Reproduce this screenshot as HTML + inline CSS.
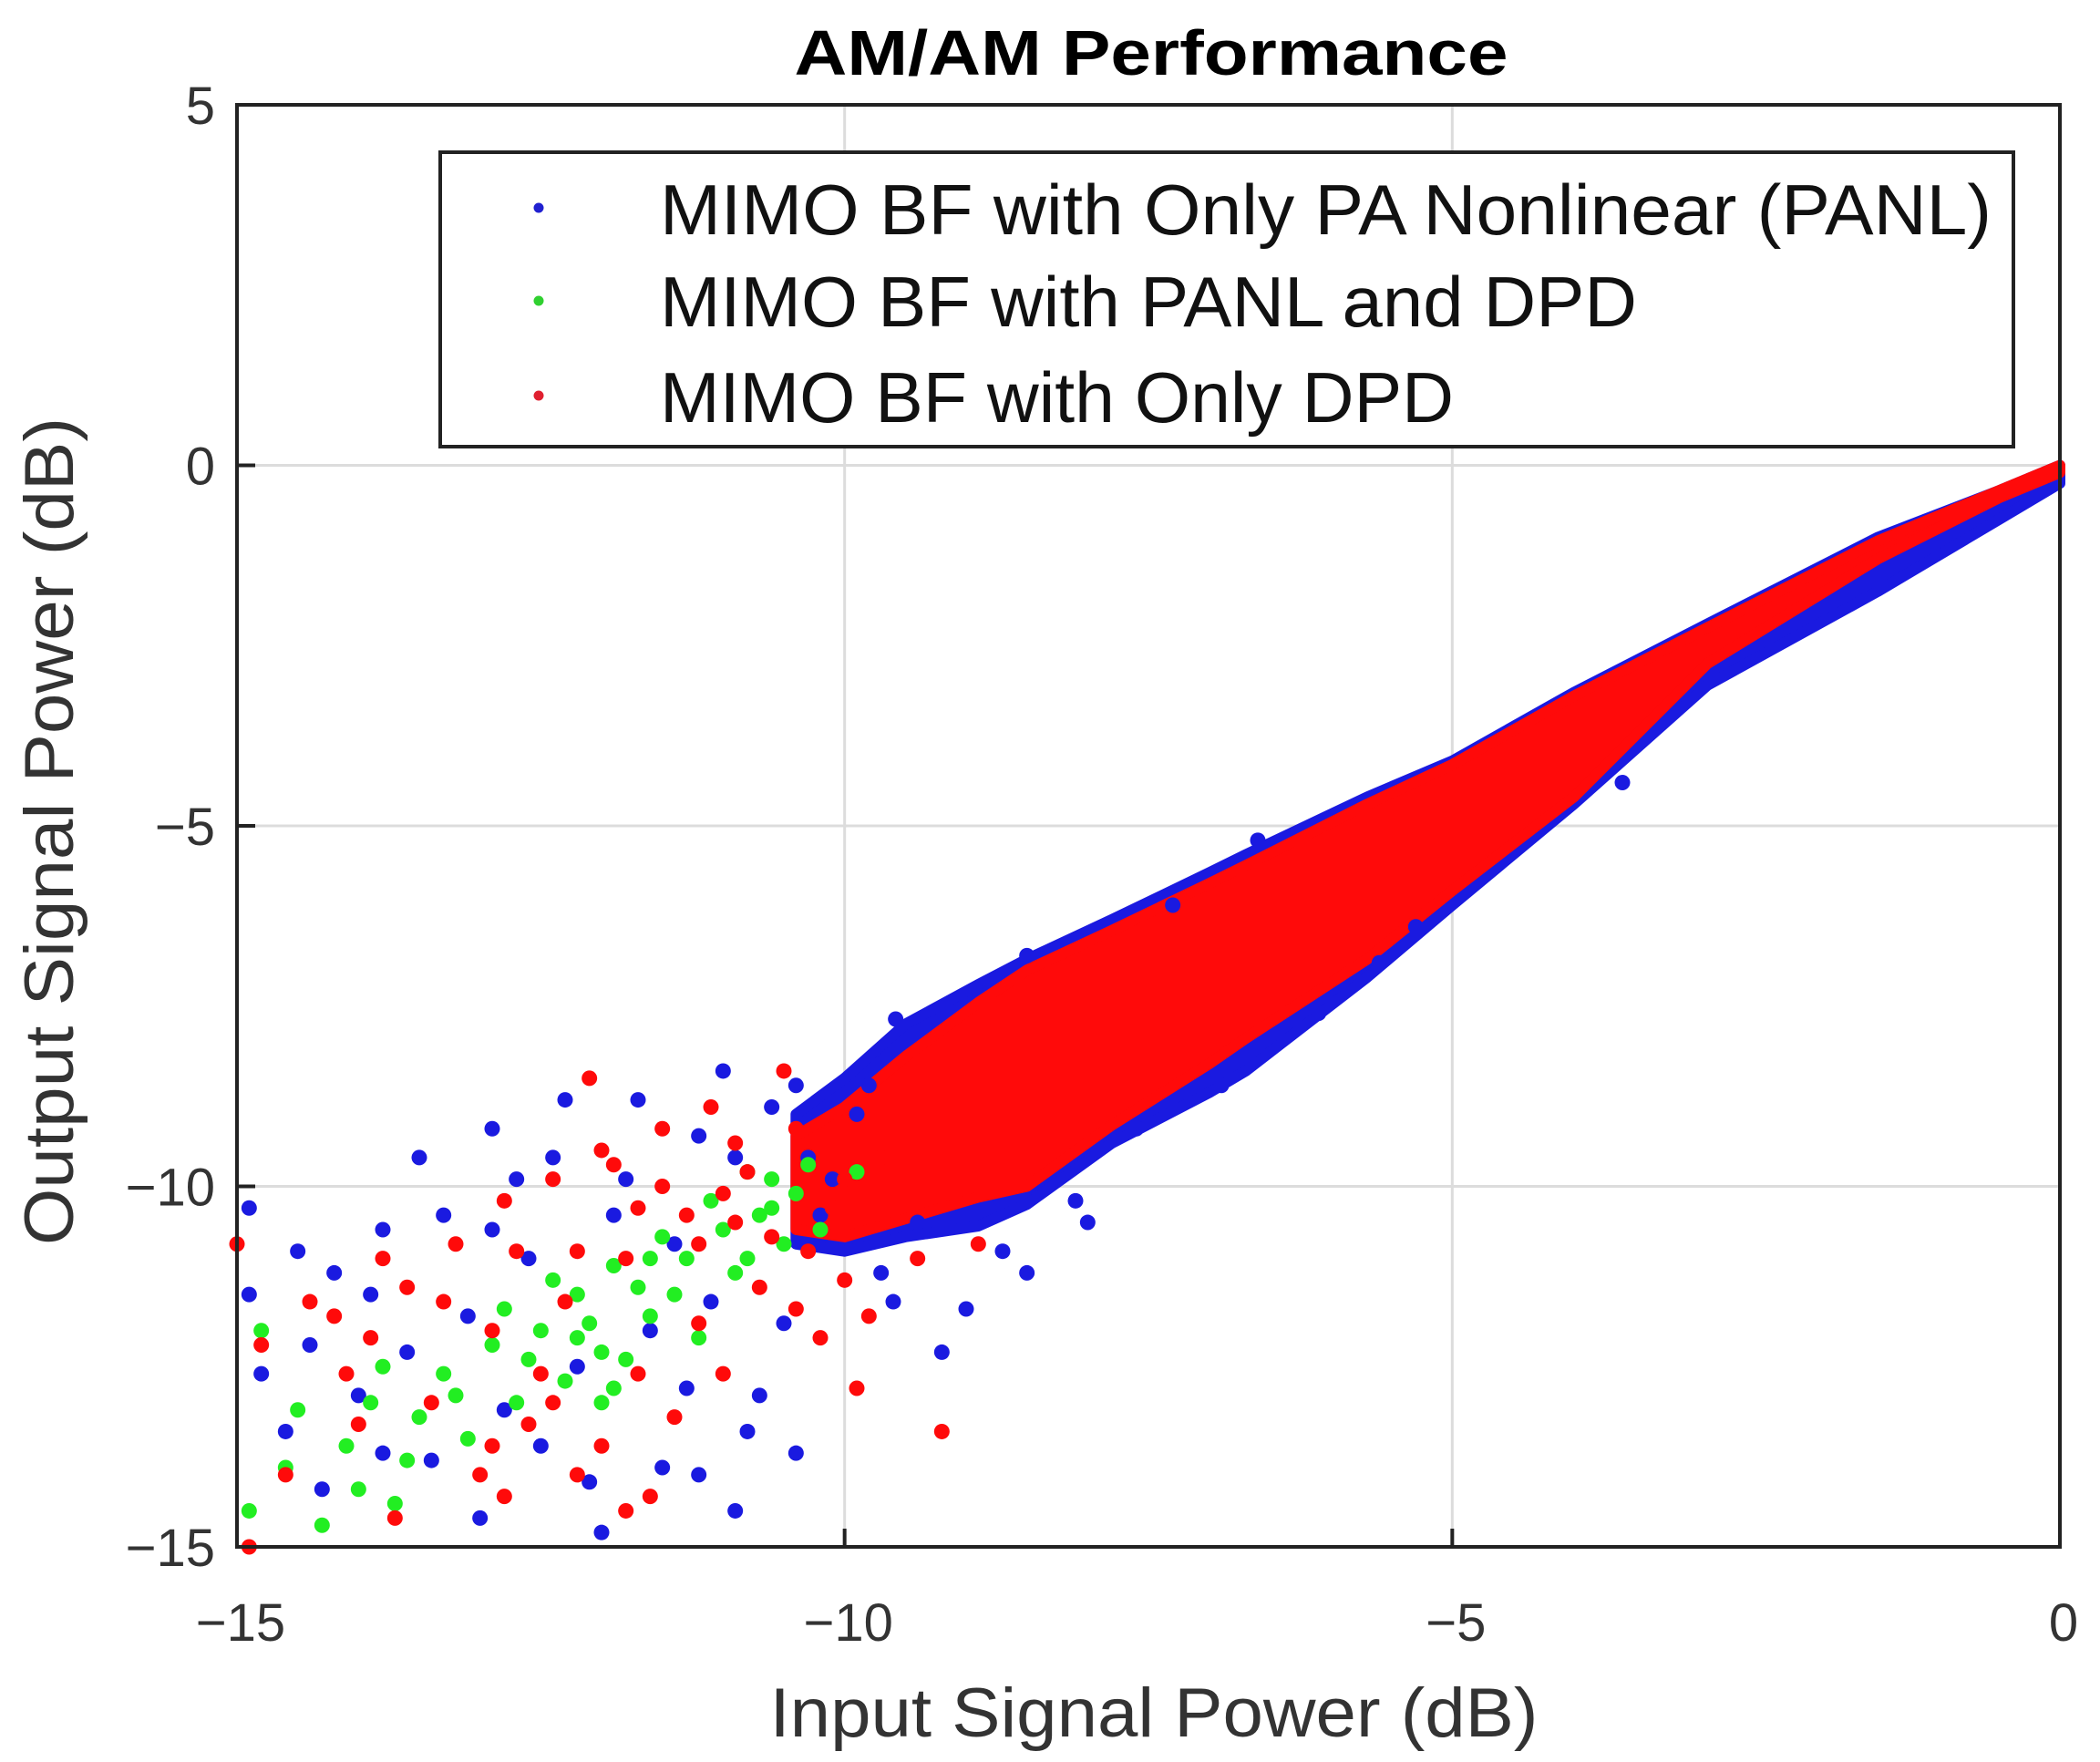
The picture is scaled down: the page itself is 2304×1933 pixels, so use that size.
<!DOCTYPE html>
<html><head><meta charset="utf-8">
<style>
html,body{margin:0;padding:0;background:#fff;}
svg{display:block;font-family:"Liberation Sans",Arial,sans-serif;}
</style></head>
<body>
<svg id="chart" width="2304" height="1933" viewBox="0 0 2304 1933" xmlns="http://www.w3.org/2000/svg">
<text x="1263" y="82" font-size="70" font-weight="bold" text-anchor="middle" textLength="783" lengthAdjust="spacingAndGlyphs">AM/AM Performance</text>
<g id="grid"></g>
<g id="bands"></g>
<g id="points"></g>
<rect x="260" y="115" width="2000" height="1582" fill="none" stroke="#222" stroke-width="4"/>
<g id="ticks"></g>
<text x="1266" y="1905" font-size="76" text-anchor="middle" fill="#333" textLength="843" lengthAdjust="spacingAndGlyphs">Input Signal Power (dB)</text>
<text transform="translate(80,912) rotate(-90)" font-size="76" text-anchor="middle" fill="#333" textLength="908" lengthAdjust="spacingAndGlyphs">Output Signal Power (dB)</text>
<g>
<rect x="483" y="167" width="1726" height="323" fill="#fff" stroke="#222" stroke-width="4"/>
<g><circle cx="591" cy="228" r="5.5" fill="#2020d0"/><text x="724" y="257" font-size="78" fill="#111" textLength="1461" lengthAdjust="spacingAndGlyphs">MIMO BF with Only PA Nonlinear (PANL)</text></g>
<g><circle cx="591" cy="330" r="5.5" fill="#30d030"/><text x="724" y="358" font-size="78" fill="#111" textLength="1072" lengthAdjust="spacingAndGlyphs">MIMO BF with PANL and DPD</text></g>
<g><circle cx="591" cy="434" r="5.5" fill="#e02030"/><text x="724" y="463" font-size="78" fill="#111" textLength="871" lengthAdjust="spacingAndGlyphs">MIMO BF with Only DPD</text></g>
</g>
</svg>
<script>
const xTicks=[-15,-10,-5,0];
const yTicks=[5,0,-5,-10,-15];
const xTickLabels=["\u221215","\u221210","\u22125","0"];
const yTickLabels=["5","0","\u22125","\u221210","\u221215"];
const bandX=[0,-0.5,-1.5,-2.9,-4.0,-5.0,-5.7,-6.7,-7.0,-7.8,-8.5,-8.9,-9.5,-10.0,-10.4];
const redUpper=[0,-0.35,-1.05,-2.25,-3.2,-4.15,-4.7,-5.55,-5.8,-6.45,-7.0,-7.45,-8.2,-8.9,-9.3];
const redLower=[-0.1,-0.45,-1.3,-2.75,-4.6,-5.9,-6.85,-7.95,-8.3,-9.15,-10.0,-10.15,-10.45,-10.7,-10.6];
const blueUpper=[0,-0.35,-1.0,-2.2,-3.15,-4.1,-4.6,-5.4,-5.65,-6.3,-6.85,-7.2,-7.75,-8.5,-9.0];
const blueLower=[-0.25,-0.75,-1.75,-3.05,-4.7,-6.1,-7.1,-8.4,-8.7,-9.4,-10.25,-10.55,-10.7,-10.9,-10.8];
const bluePts=[[-14.9,-10.3],[-14.5,-10.9],[-14.2,-11.2],[-13.8,-10.6],[-13.3,-10.4],[-12.9,-9.2],[-12.4,-9.6],[-11.7,-8.8],[-11.2,-9.3],[-10.6,-8.9],[-10.3,-9.6],[-11.9,-10.4],[-12.6,-11.0],[-13.1,-11.8],[-13.6,-12.3],[-14.0,-12.9],[-14.6,-13.4],[-14.3,-14.2],[-13.4,-13.8],[-12.8,-13.1],[-12.2,-12.5],[-11.6,-12.0],[-11.1,-11.6],[-10.7,-12.9],[-10.9,-14.5],[-11.5,-13.9],[-12.1,-14.1],[-12.5,-13.6],[-13.0,-14.6],[-14.8,-12.6],[-14.9,-11.5],[-13.9,-11.5],[-11.4,-10.8],[-10.2,-10.4],[-9.7,-11.2],[-9.4,-10.5],[-9.0,-11.7],[-9.8,-8.6],[-10.1,-9.9],[-12.0,-14.8],[-8.5,-11.2],[-8.0,-10.5],[-12.3,-8.8],[-11.0,-8.4],[-13.5,-9.6],[-12.7,-9.9],[-11.8,-9.9],[-10.9,-9.6],[-10.4,-8.6],[-9.9,-9.0],[-9.6,-11.6],[-9.2,-12.3],[-10.5,-11.9],[-11.3,-12.8],[-13.8,-13.7],[-14.4,-12.2],[-12.9,-10.6],[-10.8,-13.4],[-10.4,-13.7],[-11.2,-14.0],[-8.5,-6.8],[-9.58,-7.68],[-7.3,-6.1],[-6.6,-5.2],[-5.3,-6.4],[-5.6,-6.9],[-6.1,-7.6],[-6.9,-8.6],[-7.6,-9.2],[-8.1,-10.2],[-8.7,-10.9],[-3.6,-4.4]];
const greenPts=[[-14.8,-12.0],[-14.5,-13.1],[-14.1,-13.6],[-13.7,-14.4],[-13.9,-13.0],[-13.3,-12.6],[-12.9,-12.2],[-12.5,-12.0],[-12.2,-11.5],[-11.9,-11.1],[-11.6,-11.8],[-11.3,-11.0],[-11.0,-10.6],[-10.7,-10.4],[-10.4,-10.1],[-10.6,-9.9],[-12.0,-12.3],[-12.7,-13.0],[-13.1,-13.5],[-13.5,-13.2],[-14.3,-14.7],[-12.4,-11.3],[-11.8,-12.4],[-11.4,-11.5],[-10.9,-11.2],[-10.2,-10.6],[-9.9,-9.8],[-13.8,-12.5],[-12.8,-11.7],[-11.2,-12.1],[-12.1,-11.9],[-11.7,-11.4],[-11.5,-10.7],[-11.1,-10.2],[-10.8,-11.0],[-12.3,-12.7],[-12.6,-12.4],[-13.2,-12.9],[-14.0,-14.2],[-14.6,-13.9],[-13.6,-13.8],[-12.0,-13.0],[-11.9,-12.8],[-10.5,-10.8],[-10.3,-9.7],[-14.9,-14.5],[-10.6,-10.3],[-10.8,-9.8],[-11.6,-11.0],[-12.2,-12.1]];
const redPts=[[-15.0,-10.8],[-14.8,-12.2],[-14.6,-14.0],[-14.2,-11.8],[-13.9,-12.1],[-13.6,-11.4],[-13.2,-10.8],[-12.8,-10.2],[-12.4,-9.9],[-12.0,-9.5],[-11.7,-10.3],[-11.5,-9.2],[-11.1,-8.9],[-10.8,-9.8],[-10.5,-8.4],[-10.3,-10.9],[-10.0,-11.3],[-9.7,-9.6],[-9.4,-11.0],[-9.2,-13.4],[-10.2,-12.1],[-10.7,-11.4],[-11.0,-12.6],[-11.4,-13.2],[-12.0,-13.6],[-12.6,-13.3],[-13.0,-14.0],[-12.5,-12.6],[-13.4,-13.0],[-14.0,-13.3],[-11.8,-11.0],[-11.3,-10.4],[-12.2,-10.9],[-10.9,-10.5],[-9.9,-12.8],[-14.9,-15.0],[-13.7,-14.6],[-12.9,-12.0],[-11.6,-14.3],[-9.6,-10.0],[-8.9,-10.8],[-11.5,-10.0],[-11.0,-10.1],[-10.6,-10.7],[-10.1,-10.3],[-11.9,-9.7],[-12.3,-11.6],[-12.7,-10.9],[-13.3,-11.6],[-13.8,-11.0],[-14.4,-11.6],[-14.1,-12.6],[-12.9,-13.6],[-12.2,-14.0],[-11.8,-14.5],[-11.2,-11.9],[-10.4,-11.7],[-9.8,-11.8],[-10.0,-9.9],[-12.1,-8.5],[-10.9,-9.4],[-10.4,-9.2],[-11.2,-10.8],[-12.4,-13.0],[-11.7,-12.6],[-12.8,-14.3]];
const NS="http://www.w3.org/2000/svg";
const X0=260,X1=2260,Y0=115,Y1=1697;
function sx(v){return X0+(v+15)/15*(X1-X0);}
function sy(v){return Y0+(5-v)/20*(Y1-Y0);}
function mk(tag,attrs,parent){const e=document.createElementNS(NS,tag);for(const k in attrs)e.setAttribute(k,attrs[k]);parent.appendChild(e);return e;}
const grid=document.getElementById('grid'),ticks=document.getElementById('ticks');
xTicks.forEach((v,i)=>{
  if(v>-15&&v<0){const g=mk('line',{x1:sx(v),x2:sx(v),y1:Y0,y2:Y1,stroke:'#dcdcdc','stroke-width':3},grid);
  
  
  const t1=mk('line',{x1:sx(v),x2:sx(v),y1:Y1,y2:Y1-20,stroke:'#222','stroke-width':4},ticks);
  
  }
  const t=mk('text',{x:sx(v)+4,y:1800,'font-size':58,'text-anchor':'middle',fill:'#333'},ticks);
  t.textContent=xTickLabels[i];
  
  
});
yTicks.forEach((v,i)=>{
  if(v<5&&v>-15){const g=mk('line',{x1:X0,x2:X1,y1:sy(v),y2:sy(v),stroke:'#dcdcdc','stroke-width':3},grid);
  
  
  const t1=mk('line',{x1:X0,x2:X0+20,y1:sy(v),y2:sy(v),stroke:'#222','stroke-width':4},ticks);
  
  }
  const t=mk('text',{x:236,y:sy(v)+21,'font-size':58,'text-anchor':'end',fill:'#333'},ticks);
  t.textContent=yTickLabels[i];
  
  
});
const bands=document.getElementById('bands');
function band(up,lo,color,name){
  let d='';
  bandX.forEach((x,i)=>{d+=(i?'L':'M')+sx(x)+' '+sy(up[i]);});
  for(let i=bandX.length-1;i>=0;i--)d+='L'+sx(bandX[i])+' '+sy(lo[i]);
  const p=mk('path',{d:d+'Z',fill:color,stroke:color,'stroke-width':12,'stroke-linejoin':'round'},bands);
  
  
}
band(blueUpper,blueLower,'#1a1ae0','blue-dense-band');
band(redUpper,redLower,'#ff0a0a','red-dense-band');
const pts=document.getElementById('points');
function scatter(arr,color,name){arr.forEach(p=>{
  const c=mk('circle',{cx:sx(p[0]),cy:sy(p[1]),r:8.5,fill:color},pts);
  
  
});}
scatter(bluePts,'#1a1ae0','blue-point');
scatter(greenPts,'#22ee22','green-point');
scatter(redPts,'#ff0a0a','red-point');
</script>
</body></html>
